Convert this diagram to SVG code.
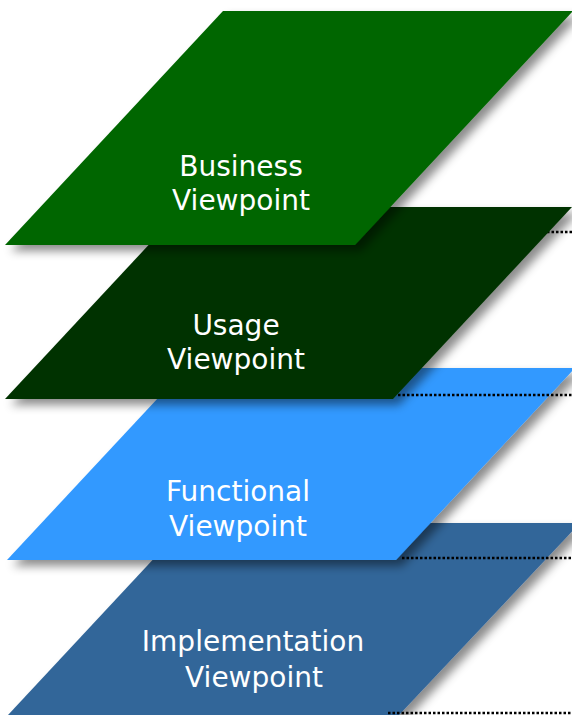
<svg xmlns="http://www.w3.org/2000/svg" width="572" height="715" viewBox="0 0 572 715">
<defs>
<filter id="sh" x="-10%" y="-10%" width="130%" height="130%">
<feDropShadow dx="6" dy="6" stdDeviation="5" flood-color="#000" flood-opacity="0.45"/>
</filter>
<style>
.layer{filter:url(#sh)}
.lbl{font-family:"DejaVu Sans",Verdana,sans-serif;font-size:28px;fill:#fff;text-anchor:middle}
.dot{stroke:#000;stroke-width:2.5;stroke-dasharray:2.5 2;fill:none}
</style>
</defs>
<rect width="572" height="715" fill="#fff"/>
<g id="implementation">
<polygon class="layer" points="187,523 580,523 399,715 8,715" fill="#336699"/>
<text class="lbl" x="253" y="651">Implementation</text>
<text class="lbl" x="254" y="687">Viewpoint</text>
</g>
<g id="functional">
<polygon class="layer" points="186,368 575,368 396,560 7,560" fill="#3399FF"/>
<text class="lbl" x="238" y="501">Functional</text>
<text class="lbl" x="238" y="536">Viewpoint</text>
</g>
<g id="connectors">
<line class="dot" x1="388" y1="713" x2="572" y2="713"/>
<line class="dot" x1="402" y1="558" x2="572" y2="558"/>
<line class="dot" x1="398" y1="395" x2="572" y2="395"/>
<line class="dot" x1="367" y1="232" x2="572" y2="232"/>
</g>
<g id="usage">
<polygon class="layer" points="184,207 572,207 393,399 5,399" fill="#003300"/>
<text class="lbl" x="236" y="335">Usage</text>
<text class="lbl" x="236" y="369">Viewpoint</text>
</g>
<g id="business">
<polygon class="layer" points="223,11 573,11 355,245 5,245" fill="#006600"/>
<text class="lbl" x="241" y="176">Business</text>
<text class="lbl" x="241" y="210">Viewpoint</text>
</g>
</svg>
